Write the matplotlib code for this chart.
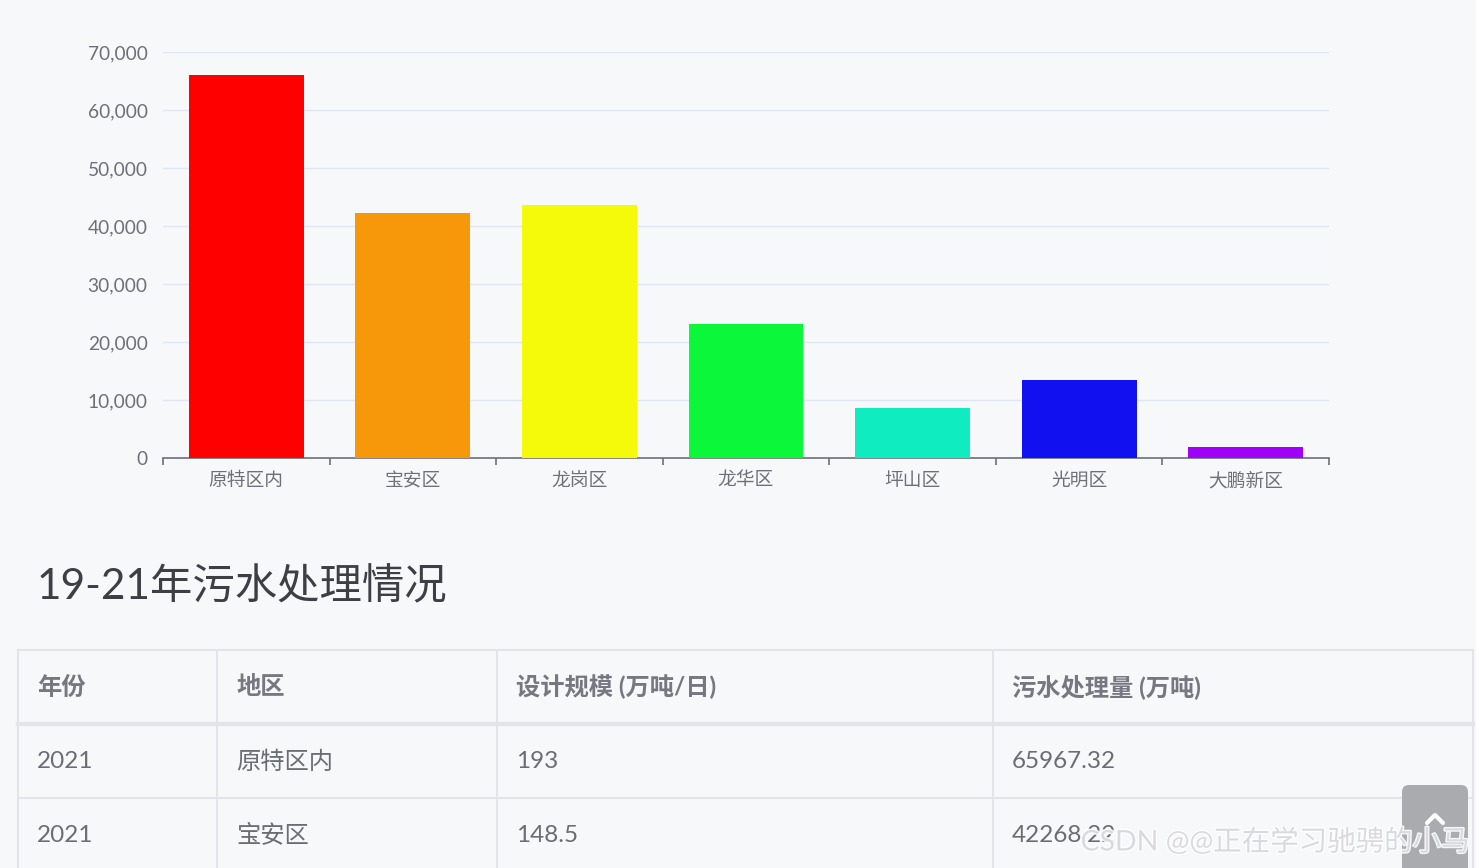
import matplotlib
matplotlib.use("Agg")
import matplotlib.pyplot as plt
from matplotlib.patches import FancyBboxPatch
import matplotlib.patheffects as pe
from matplotlib.ticker import FuncFormatter, FixedLocator

plt.rcParams['font.family'] = ['Lato', 'Noto Sans CJK SC', 'DejaVu Sans']

# ---- data ----
districts = ['原特区内', '宝安区', '龙岗区', '龙华区', '坪山区', '光明区', '大鹏新区']
volumes = [65967.32, 42268.22, 43600, 23100, 8650, 13450, 1950]
bar_colors = ['#ff0000', '#f7970a', '#f5f90a', '#0af73a', '#0eecc0', '#1010f0', '#a000f8']
y_ticks = [0, 10000, 20000, 30000, 40000, 50000, 60000, 70000]

page_title = '19-21年污水处理情况'
table_header = ['年份', '地区', '设计规模 (万吨/日)', '污水处理量 (万吨)']
table_rows = [
    ['2021', '原特区内', '193', '65967.32'],
    ['2021', '宝安区', '148.5', '42268.22'],
]
watermark = 'CSDN @@正在学习驰骋的小马'

W, H = 1476, 868
BG = '#f7f8fa'
fig = plt.figure(figsize=(W / 100, H / 100), dpi=100, facecolor=BG)

# ---- bar chart ----
ax = fig.add_axes([163 / W, (H - 458) / H, (1329 - 163) / W, (458 - 52) / H])
ax.set_facecolor(BG)
x = list(range(len(districts)))
ax.bar(x, volumes, width=0.69, color=bar_colors, zorder=3)
ax.set_xlim(-0.5, len(districts) - 0.5)
ax.set_ylim(0, 70000)
ax.set_yticks(y_ticks)
ax.yaxis.set_major_formatter(FuncFormatter(lambda v, p: f'{int(v):,}'))
ax.grid(axis='y', color='#e0e6f1', linewidth=1, zorder=0)
for s in ['top', 'right', 'left']:
    ax.spines[s].set_visible(False)
ax.spines['bottom'].set_color('#6e7079')
ax.spines['bottom'].set_linewidth(1.2)
ax.tick_params(axis='y', length=0, pad=11, labelsize=13.8, labelcolor='#6e7079')
ax.set_xticks(x)
ax.set_xticklabels(districts)
ax.tick_params(axis='x', which='major', length=0, pad=10, labelsize=13.5, labelcolor='#6e7079')
ax.xaxis.set_minor_locator(FixedLocator([i - 0.5 for i in range(len(districts) + 1)]))
ax.tick_params(axis='x', which='minor', length=5, width=1.2, color='#6e7079')

# ---- page overlay (title, table) in pixel coords ----
ov = fig.add_axes([0, 0, 1, 1], facecolor='none')
ov.set_xlim(0, W)
ov.set_ylim(H, 0)
ov.axis('off')

ov.text(37, 587, page_title, fontsize=30.5, color='#3d3f44', va='center', ha='left')

col_x = [18, 217, 497, 993, 1473]
row_y = [650, 724, 798]
line_c = '#e2e4ea'
for cx in col_x:
    ov.plot([cx, cx], [650, H + 5], color=line_c, lw=1.5, clip_on=False)
for i, ry in enumerate(row_y):
    ov.plot([col_x[0], col_x[-1]], [ry, ry], color=line_c, lw=3 if i == 1 else 1.5)

for j, h in enumerate(table_header):
    ov.text(col_x[j] + 19, 687, h, fontsize=17.5, fontweight='bold', color='#767780',
            va='center', ha='left')
row_centers = [762, 835]
for r, row in enumerate(table_rows):
    for j, val in enumerate(row):
        ov.text(col_x[j] + 19, row_centers[r], val, fontsize=17.5, color='#6b6d75',
                va='center', ha='left')

# back-to-top button
btn = FancyBboxPatch((1402, 785), 66, 100, boxstyle='round,pad=0,rounding_size=7',
                     facecolor='#aaabaf', edgecolor='none', zorder=5)
ov.add_patch(btn)
ov.plot([1427, 1435, 1443], [823, 815, 823], color='white', lw=3, zorder=6,
        solid_capstyle='round', solid_joinstyle='round')

# watermark
ov.text(1470, 842, watermark, fontsize=20.5, color='#d6d7dc', ha='right', va='center', zorder=7,
        alpha=0.9, path_effects=[pe.withStroke(linewidth=2, foreground='#ffffff')])

fig.savefig('out.png', dpi=100, facecolor=BG)
